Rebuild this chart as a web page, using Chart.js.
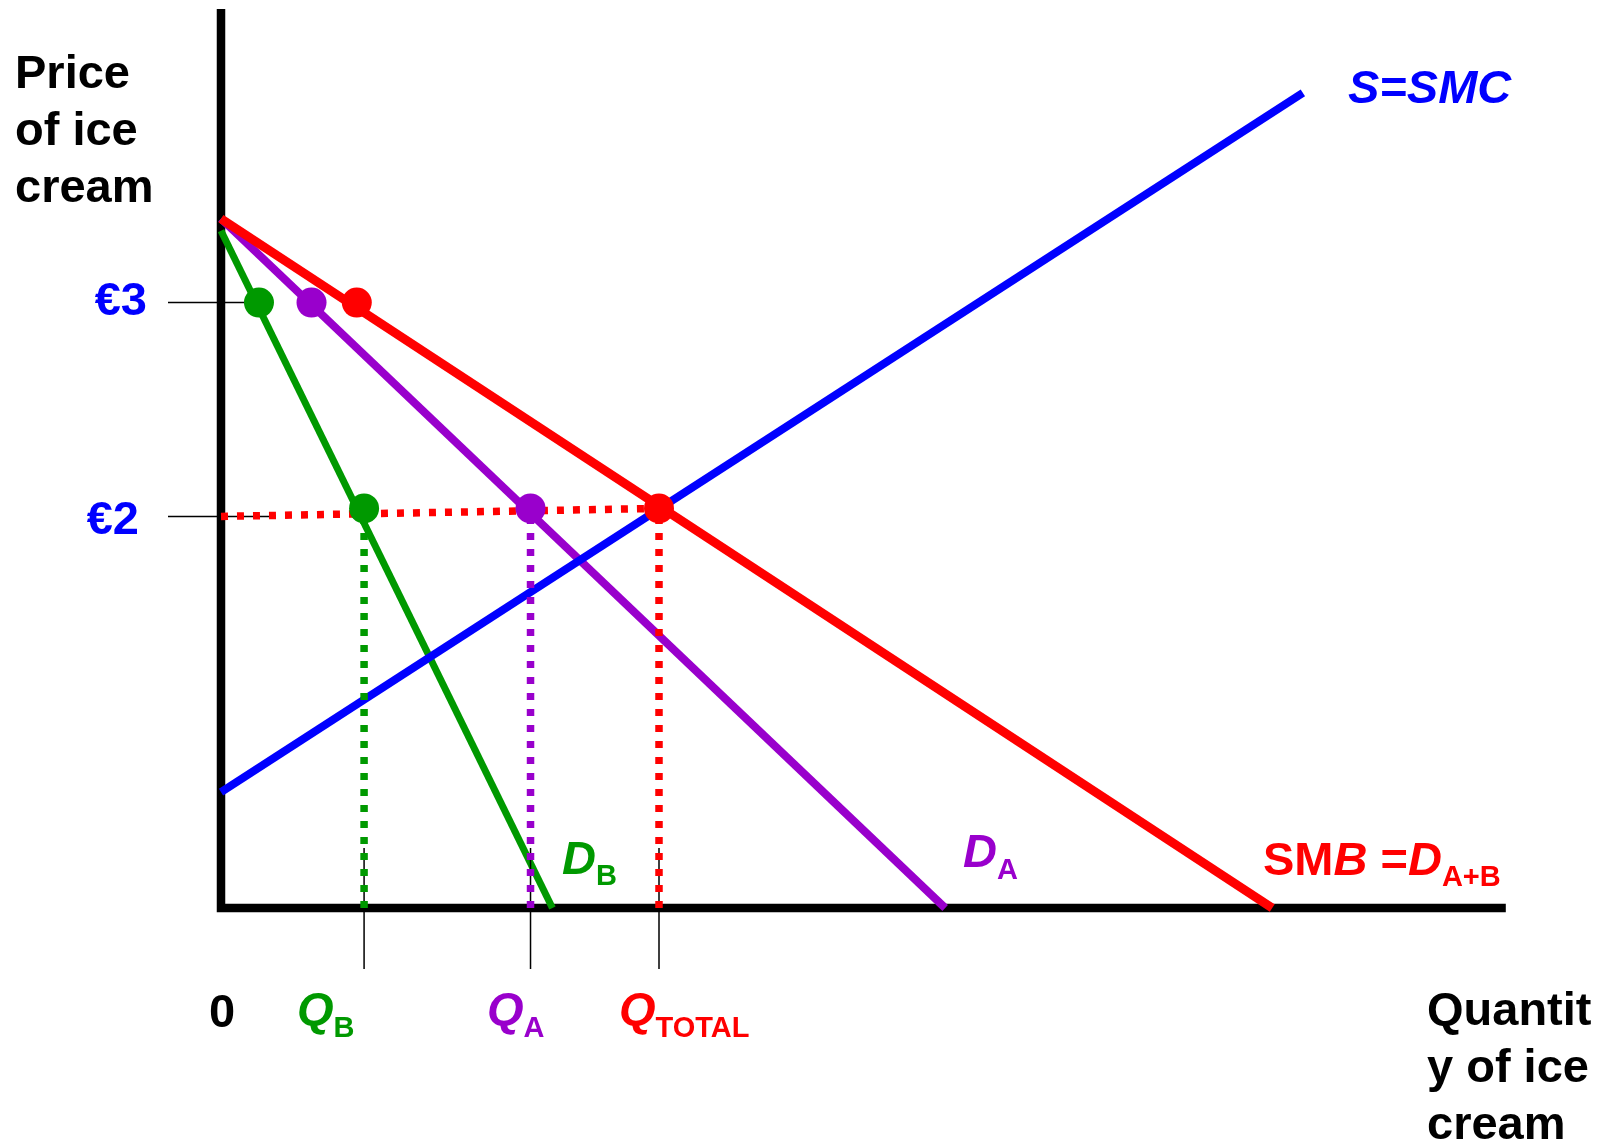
<!DOCTYPE html>
<html>
<head>
<meta charset="utf-8">
<title>Public good: SMB = D(A+B)</title>
<script src="https://cdn.jsdelivr.net/npm/chart.js@4.4.1/dist/chart.umd.min.js"></script>
<style>
  html, body { margin: 0; padding: 0; background: #fff; overflow: hidden; }
  #wrap { position: relative; width: 1613px; height: 1148px; }
</style>
</head>
<body>
<div id="wrap"><canvas id="grafico"></canvas></div>
<script>
// consumers B, A and the total (same order everywhere)
const qAt3 = [2.6, 6.2, 9.3];     // quantity demanded at €3
const qAt2 = [9.8, 21.2, 30.0];   // quantity demanded at €2
const prices = [3.03, 2.0];       // price levels where the dots sit
const priceTicks = [3.03, 1.96];
const priceLabels = ['€3', '€2'];
const qLabels = ['B', 'A', 'TOTAL'];

// curves, [quantity, price]
const supplyS = [[0, 0.58], [74.1, 4.08]];
const demandA = [[0, 3.45], [49.6, 0]];
const demandB = [[0, 3.39], [22.7, 0]];
const smb     = [[0, 3.45], [72.0, 0]];
const eixos   = [[0, 4.5], [0, 0], [88, 0]];

const cores = ['#009900', '#9900CC', '#FF0000'];
const azul = '#0000FF';

function pts(arr) { return arr.map(p => ({ x: p[0], y: p[1] })); }
function linha(arr, cor, largura, ordem, extra) {
    return Object.assign({
        data: pts(arr), showLine: true, borderColor: cor, borderWidth: largura,
        pointRadius: 0, order: ordem, fill: false
    }, extra || {});
}

let datasets = [];
datasets.push(linha(eixos, '#000', 8.5, 9, { borderJoinStyle: 'miter' }));
datasets.push(linha(demandB, cores[0], 7, 8));
datasets.push(linha(demandA, cores[1], 8, 7));
datasets.push(linha(smb, cores[2], 9, 6));
datasets.push(linha(supplyS, azul, 8, 5));

// thin tick marks
const yTickEnd = [qAt3[0], 3.36];
priceTicks.forEach((v, i) => datasets.push(linha([[-3.63, v], [yTickEnd[i], v]], '#000', 1.5, 4)));
qAt2.forEach(q => datasets.push(linha([[q, 0.30], [q, -0.305]], '#000', 1.5, 4)));

// dotted guides
datasets.push(linha([[0, priceTicks[1]], [qAt2[2], prices[1]]], cores[2], 7.5, 3, { borderDash: [7, 9] }));
qAt2.forEach((q, i) => datasets.push(linha([[q, 0], [q, prices[1]]], cores[i], 7.5, 2, { borderDash: [7, 9] })));

// dots
datasets.push({
    data: qAt3.map(q => ({ x: q, y: prices[0] })).concat(qAt2.map(q => ({ x: q, y: prices[1] }))),
    showLine: false,
    pointRadius: 15,
    pointBorderWidth: 0,
    pointBackgroundColor: cores.concat(cores),
    order: 0
});

const F = '"Liberation Sans", Arial, Helvetica, sans-serif';
const normal = 'bold 47px ' + F, ital = 'italic bold 47px ' + F, sub = 'bold 29px ' + F;

function escreve(ctx, x, y, partes, cor, alinhar) {
    ctx.fillStyle = cor;
    ctx.textBaseline = 'alphabetic';
    ctx.textAlign = 'left';
    let total = 0;
    partes.forEach(p => { ctx.font = p[1]; total += ctx.measureText(p[0]).width; });
    if (alinhar === 'right') x -= total;
    if (alinhar === 'center') x -= total / 2;
    partes.forEach(p => {
        ctx.font = p[1];
        ctx.fillText(p[0], x, y + (p[2] || 0));
        x += ctx.measureText(p[0]).width;
    });
}

const textos = {
    id: 'textos',
    afterDraw(chart) {
        const ctx = chart.ctx;
        ctx.save();
        // axis titles
        ['Price', 'of ice', 'cream'].forEach((t, i) => escreve(ctx, 15, 88 + i * 57, [[t, normal]], '#000'));
        ['Quantit', 'y of ice', 'cream'].forEach((t, i) => escreve(ctx, 1427, 1025 + i * 57, [[t, normal]], '#000'));
        // price labels
        escreve(ctx, 147, 315, [[priceLabels[0], normal]], azul, 'right');
        escreve(ctx, 139, 534, [[priceLabels[1], normal]], azul, 'right');
        escreve(ctx, 222, 1027, [['0', normal]], '#000', 'center');
        // quantity labels
        const qx = [297, 487, 619];
        qLabels.forEach((l, i) => escreve(ctx, qx[i], 1025, [['Q', ital], [l, sub, 12]], cores[i]));
        // curve labels
        escreve(ctx, 562, 874, [['D', ital], ['B', sub, 11]], cores[0]);
        escreve(ctx, 963, 867, [['D', ital], ['A', sub, 12]], cores[1]);
        escreve(ctx, 1263, 875, [['SM', normal], ['B', ital], [' =', normal], ['D', ital], ['A+B', sub, 11]], cores[2]);
        escreve(ctx, 1348, 103, [['S=SMC', ital]], azul);
        ctx.restore();
    }
};

// pixel layout: y axis at 221px, x axis at 908px
const pxX = 14.6, pxY = 199.8;
new Chart(document.getElementById('grafico'), {
    type: 'scatter',
    data: { datasets: datasets },
    options: {
        responsive: true,
        maintainAspectRatio: false,
        animation: false,
        events: [],
        layout: { padding: 0, autoPadding: false },
        plugins: { legend: { display: false }, tooltip: { enabled: false } },
        scales: {
            x: { type: 'linear', display: false, min: -221 / pxX, max: (1613 - 221) / pxX },
            y: { type: 'linear', display: false, min: -(1148 - 908) / pxY, max: 908 / pxY }
        }
    },
    plugins: [textos]
});
</script>
</body>
</html>
